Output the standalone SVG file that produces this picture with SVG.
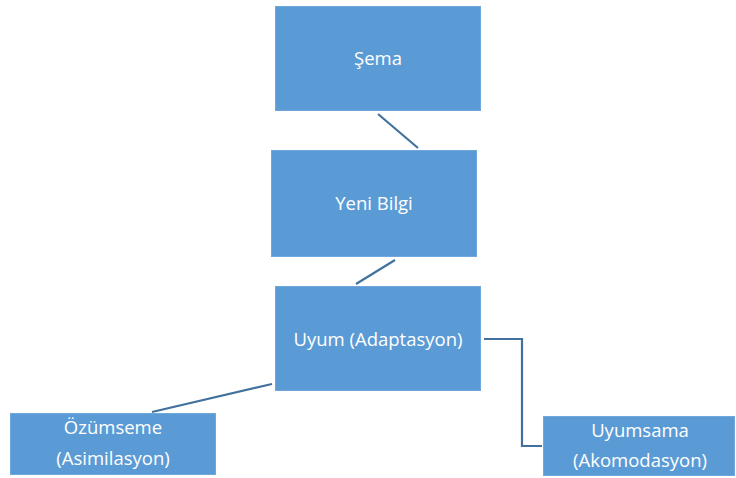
<svg xmlns="http://www.w3.org/2000/svg" width="736" height="478" viewBox="0 0 736 478">
<style>
.box{fill:#5B9BD5;stroke:#6FA8DC;stroke-width:1}
.t{fill:#FFFFFF;font-family:"Open Sans","Liberation Sans",sans-serif;font-size:18.5px;text-anchor:middle}
.c{fill:none;stroke:#41719C;stroke-width:2.2}
</style>
<rect width="736" height="478" fill="#FFFFFF"/>
<g id="connectors">
<line class="c" x1="378" y1="114" x2="418" y2="148"/>
<line class="c" x1="395" y1="260" x2="356" y2="284"/>
<line class="c" x1="272" y1="384" x2="152" y2="412"/>
<polyline class="c" points="484,339 522,339 522,446 542,446"/>
</g>
<g id="sema">
<rect class="box" x="275.5" y="6.5" width="205" height="104"/>
<text class="t" x="378" y="65">Şema</text>
</g>
<g id="yeni-bilgi">
<rect class="box" x="271.5" y="150.5" width="205" height="106"/>
<text class="t" x="374" y="210">Yeni Bilgi</text>
</g>
<g id="uyum">
<rect class="box" x="275.5" y="286.5" width="205" height="104"/>
<text class="t" x="378" y="346">Uyum (Adaptasyon)</text>
</g>
<g id="ozumseme">
<rect class="box" x="10.5" y="413.5" width="205" height="61"/>
<text class="t" x="113" y="434">Özümseme</text>
<text class="t" x="113" y="465">(Asimilasyon)</text>
</g>
<g id="uyumsama">
<rect class="box" x="543.5" y="416.5" width="191" height="59"/>
<text class="t" x="640" y="437">Uyumsama</text>
<text class="t" x="640" y="467">(Akomodasyon)</text>
</g>
</svg>
